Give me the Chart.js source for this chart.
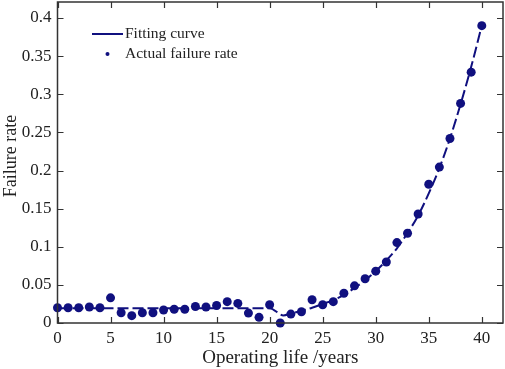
<!DOCTYPE html>
<html>
<head>
<meta charset="utf-8">
<script src="https://cdn.jsdelivr.net/npm/chart.js@4"></script>
<style>
html,body{margin:0;padding:0;background:#fff;}
#wrap{width:505px;height:369px;position:relative;}
</style>
</head>
<body>
<div id="wrap"><canvas id="c" width="505" height="369"></canvas></div>
<script>
const years = [0,1,2,3,4,5,6,7,8,9,10,11,12,13,14,15,16,17,18,19,20,21,22,23,24,25,26,27,28,29,30,31,32,33,34,35,36,37,38,39,40];
const actualRate = [0.020,0.020,0.020,0.021,0.020,0.033,0.0135,0.0096,0.0135,0.0135,0.017,0.018,0.018,0.0217,0.021,0.023,0.028,0.0257,0.013,0.0074,0.024,0.0,0.0117,0.0148,0.0305,0.024,0.028,0.039,0.0487,0.058,0.068,0.080,0.1055,0.1177,0.143,0.182,0.2045,0.242,0.288,0.329,0.390];
const fitYears = [0,5,10,15,20,21.3,22,23,24,25,26,27,28,29,30,31,32,33,34,35,36,37,38,39,40];
const fitRate = [0.0195,0.0195,0.0195,0.0195,0.0195,0.010,0.0125,0.016,0.020,0.025,0.030,0.037,0.046,0.056,0.068,0.082,0.098,0.118,0.141,0.170,0.203,0.242,0.287,0.336,0.390];
const xTicks = [0,5,10,15,20,25,30,35,40];
const yTicks = [0,0.05,0.1,0.15,0.2,0.25,0.3,0.35,0.4];
const seriesNames = ['Fitting curve','Actual failure rate'];
const axisTitles = ['Operating life /years','Failure rate'];

const NAVY = '#10107f';
const FONT = "'Liberation Serif', 'DejaVu Serif', serif";

const framePlugin = {
  id: 'frame',
  afterDraw(chart) {
    const ctx = chart.ctx, a = chart.chartArea;
    const xs = chart.scales.x, ys = chart.scales.y;
    ctx.save();
    ctx.strokeStyle = '#333';
    ctx.lineWidth = 1.5;
    ctx.strokeRect(a.left, a.top, a.right - a.left, a.bottom - a.top);
    ctx.lineWidth = 1.2;
    const L = 6;
    ctx.beginPath();
    xTicks.forEach(v => {
      const p = Math.round(xs.getPixelForValue(v)) + 0.5;
      ctx.moveTo(p, a.bottom); ctx.lineTo(p, a.bottom - L);
      ctx.moveTo(p, a.top); ctx.lineTo(p, a.top + L);
    });
    yTicks.forEach(v => {
      const p = Math.round(ys.getPixelForValue(v)) + 0.5;
      ctx.moveTo(a.left, p); ctx.lineTo(a.left + L, p);
      ctx.moveTo(a.right, p); ctx.lineTo(a.right - L, p);
    });
    ctx.stroke();
    // y axis title
    ctx.fillStyle = '#222';
    ctx.font = "18px " + FONT;
    ctx.textAlign = 'center';
    ctx.textBaseline = 'middle';
    ctx.translate(11, 156);
    ctx.rotate(-Math.PI / 2);
    ctx.fillText(axisTitles[1], 0, 0);
    ctx.restore();
  }
};

function zeroPad(s) { s.paddingTop = 0; s.paddingBottom = 0; s.paddingLeft = 0; s.paddingRight = 0; }

new Chart(document.getElementById('c'), {
  type: 'scatter',
  data: {
    datasets: [
      {
        label: seriesNames[0],
        data: fitYears.map((x, i) => ({x, y: fitRate[i]})),
        showLine: true,
        borderColor: NAVY,
        backgroundColor: NAVY,
        borderWidth: 2,
        borderDash: [11, 4],
        pointRadius: 0,
        cubicInterpolationMode: 'monotone',
        order: 2
      },
      {
        label: seriesNames[1],
        data: years.map((x, i) => ({x, y: actualRate[i]})),
        showLine: false,
        backgroundColor: NAVY,
        borderColor: NAVY,
        pointRadius: 4.5,
        pointBorderWidth: 0,
        clip: false,
        order: 1
      }
    ]
  },
  options: {
    responsive: false,
    animation: false,
    devicePixelRatio: 1,
    layout: { autoPadding: false, padding: { top: 2, right: 2, left: 0, bottom: 0 } },
    plugins: {
      legend: { display: false },
      title: { display: false },
      tooltip: { enabled: false }
    },
    scales: {
      x: {
        type: 'linear',
        min: 0, max: 42,
        afterBuildTicks(s) { s.ticks = xTicks.map(v => ({value: v})); },
        afterFit(s) { s.height = 46; zeroPad(s); },
        grid: { display: false, drawTicks: false },
        border: { display: false },
        ticks: { color: '#222', font: { family: FONT, size: 17 }, padding: 5, maxRotation: 0 },
        title: { display: true, text: axisTitles[0], color: '#222', font: { family: FONT, size: 19 }, padding: { top: 0, bottom: 0 } }
      },
      y: {
        type: 'linear',
        min: 0, max: 0.421,
        afterBuildTicks(s) { s.ticks = yTicks.map(v => ({value: v})); },
        afterFit(s) { s.width = 57.5; zeroPad(s); },
        grid: { display: false, drawTicks: false },
        border: { display: false },
        ticks: { color: '#222', font: { family: FONT, size: 17 }, padding: 6, callback: v => String(+v.toFixed(2)) },
        title: { display: false }
      }
    }
  },
  plugins: [framePlugin, {
    id: 'legendBox',
    afterDraw(chart) {
      const ctx = chart.ctx;
      ctx.save();
      ctx.fillStyle = '#222';
      ctx.font = "15.5px " + FONT;
      ctx.textBaseline = 'middle';
      ctx.strokeStyle = NAVY;
      ctx.lineWidth = 2;
      ctx.beginPath(); ctx.moveTo(92, 34); ctx.lineTo(123, 34); ctx.stroke();
      ctx.fillText(chart.data.datasets[0].label, 125, 34);
      ctx.fillStyle = NAVY;
      ctx.beginPath(); ctx.arc(107.5, 54, 2, 0, Math.PI * 2); ctx.fill();
      ctx.fillStyle = '#222';
      ctx.fillText(chart.data.datasets[1].label, 125, 54);
      ctx.restore();
    }
  }]
});
</script>
</body>
</html>
